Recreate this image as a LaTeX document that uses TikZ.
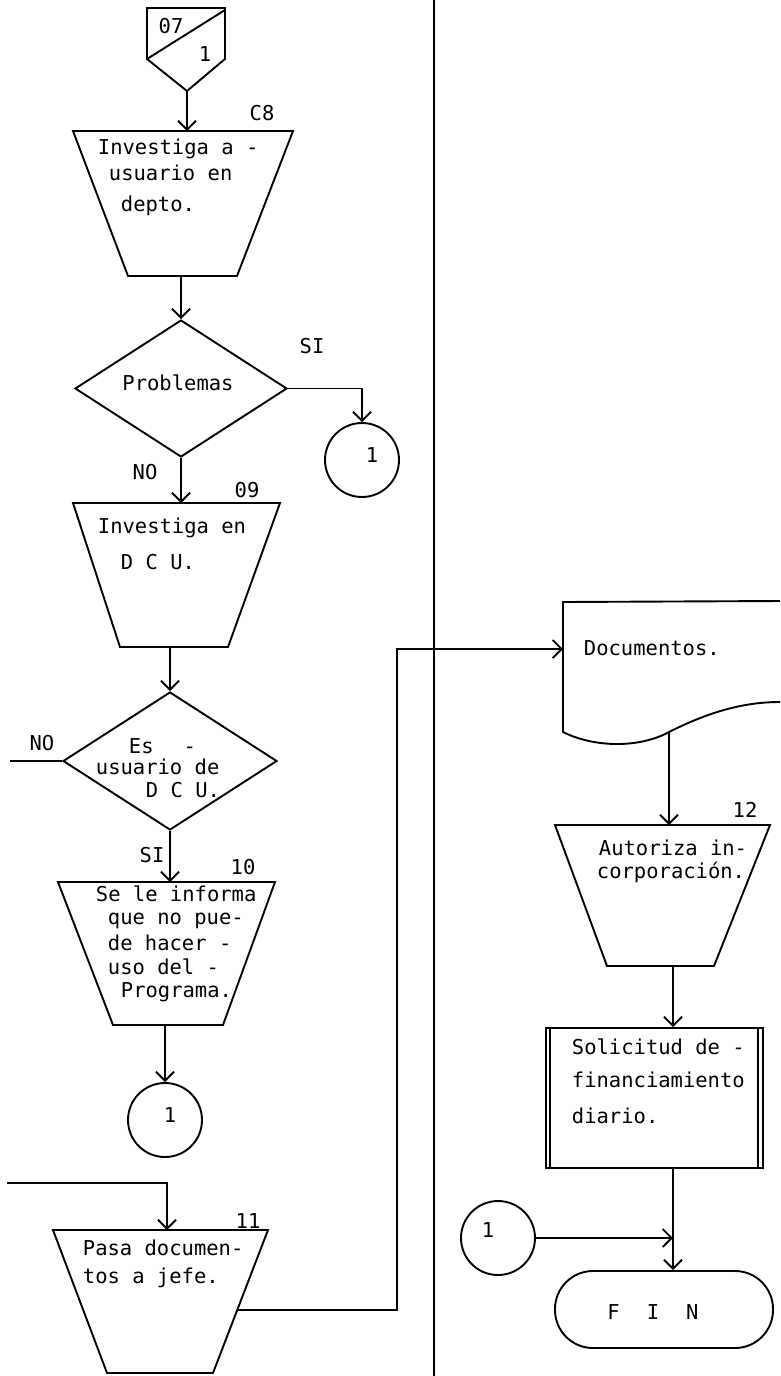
\documentclass[tikz,border=0pt]{standalone}
\usepackage{fontspec}
\setmonofont{DejaVu Sans Mono}
\usetikzlibrary{arrows.meta,shapes.geometric,calc}
\begin{document}
\begin{tikzpicture}[x=1pt,y=-1pt,line width=1.9pt,
  tbox/.style={inner sep=0pt,outer sep=0pt,rectangle},
  dia/.style={draw,diamond,inner sep=0pt},
  con/.style={draw,circle,inner sep=0pt,minimum size=74pt},
  arr/.style={-{Straight Barb[length=9pt,width=18pt]}},
  tl/.style={font=\ttfamily\fontsize{20.5}{24}\selectfont,anchor=west,inner sep=0pt,text height=14pt,text depth=0pt},
  lab/.style={font=\ttfamily\fontsize{20.5}{24}\selectfont,anchor=center,inner sep=0pt,text height=14pt,text depth=0pt}]
\useasboundingbox (0,0) rectangle (780,1376);
\fill[white] (0,0) rectangle (780,1376);

% divider
\coordinate (divT) at (434,0);
\coordinate (divB) at (434,1376);
\draw (divT) -- (divB);

% off-page connector
\coordinate (opTL) at (147,8);
\coordinate (opTR) at (225,8);
\coordinate (opR) at (225,59);
\coordinate (opA) at (187,91);
\coordinate (opL) at (147,59);
\coordinate (opD) at (225,10);
\draw (opTL) -- (opTR) -- (opR) -- (opA) -- (opL) -- cycle;
\draw (opL) -- (opD);
\node[lab] (l07) at (171,26) {07};
\node[lab] (l1a) at (205,54) {1};

% 08
\node[tbox,minimum width=220pt,minimum height=145pt] (T08) at (183,203.5) {};
\draw (T08.north west) -- (T08.north east) -- ([xshift=-56pt]T08.south east) -- ([xshift=55pt]T08.south west) -- cycle;
\node[lab] (n08) at (262,113) {C8};
\node[tl] (t08a) at (97,147) {Investiga a -};
\node[tl] (t08b) at (108,173) {usuario en};
\node[tl] (t08c) at (120,204) {depto.};
\draw[arr] (opA) -- (opA |- T08.north);

% Problemas
\node[dia,minimum width=212pt,minimum height=137pt] (D1) at (181,388.5) {};
\node[lab] (tD1) at (178,383) {Problemas};
\draw[arr] (D1.north |- T08.south) -- (D1.north);
\node[con] (C1) at (362,460) {};
\node[lab] (tC1) at (372,455) {1};
\node[lab] (si1) at (312,346) {SI};
\draw[arr] (D1.east) -| (C1.north);

% 09
\node[tbox,minimum width=207pt,minimum height=144pt] (T09) at (176.5,575) {};
\draw (T09.north west) -- (T09.north east) -- ([xshift=-52pt]T09.south east) -- ([xshift=47pt]T09.south west) -- cycle;
\node[lab] (no1) at (145,472) {NO};
\node[lab] (n09) at (247,490) {09};
\node[tl] (t09a) at (97,526) {Investiga en};
\node[tl] (t09b) at (120,562) {D C U.};
\draw[arr] (D1.south) -- (D1.south |- T09.north);

% Es usuario
\node[dia,minimum width=214pt,minimum height=138pt] (D2) at (170,761) {};
\node[tl] (tD2a) at (128,746) {Es\hspace{30pt}-};
\node[tl] (tD2b) at (95,767) {usuario de};
\node[tl] (tD2c) at (145,790) {D C U.};
\draw[arr] (D2.north |- T09.south) -- (D2.north);
\coordinate (noL) at (10,761);
\draw (D2.west) -- (noL);
\node[lab] (no2) at (42,743) {NO};

% 10
\node[tbox,minimum width=217pt,minimum height=143pt] (T10) at (166.5,953.5) {};
\draw (T10.north west) -- (T10.north east) -- ([xshift=-52pt]T10.south east) -- ([xshift=55pt]T10.south west) -- cycle;
\node[lab] (si2) at (152,855) {SI};
\node[lab] (n10) at (243,867) {10};
\node[tl] (t10a) at (95,894) {Se le informa};
\node[tl] (t10b) at (107,917) {que no pue-};
\node[tl] (t10c) at (107,943) {de hacer -};
\node[tl] (t10d) at (107,967) {uso del -};
\node[tl] (t10e) at (120,990) {Programa.};
\draw[arr] (D2.south) -- (D2.south |- T10.north);

\node[con] (C2) at (165,1120) {};
\node[lab] (tC2) at (170,1115) {1};
\draw[arr] (C2.north |- T10.south) -- (C2.north);

% 11
\node[tbox,minimum width=215pt,minimum height=143pt] (T11) at (160.5,1301.5) {};
\coordinate (T11br) at ([xshift=-55pt]T11.south east);
\coordinate (T11bl) at ([xshift=54pt]T11.south west);
\draw (T11.north west) -- (T11.north east) -- (T11br) -- (T11bl) -- cycle;
\node[lab] (n11) at (248,1221) {11};
\node[tl] (t11a) at (82,1248) {Pasa documen-};
\node[tl] (t11b) at (82,1276) {tos a jefe.};
\coordinate (in11) at (7,1183);
\coordinate (k11) at (167,1183);
\draw[arr] (in11) -- (k11) -- (k11 |- T11.north);
\coordinate (ex11) at ($(T11.north east)!0.56!(T11br)$);

% Documentos
\coordinate (docTR) at (780,601);
\coordinate (docTL) at (563,602);
\coordinate (docBL) at (563,732);
\coordinate (docS) at (669,732);
\coordinate (docBR) at (780,702);
\draw (docTR) -- (docTL) -- (docBL) .. controls (595,748) and (640,748) .. (docS) .. controls (705,714) and (740,702) .. (docBR);
\node[tl] (tdoc) at (583,648) {Documentos.};
\coordinate (docW) at (563,649);
\coordinate (k12) at (397,649);
\draw[arr] (ex11) -| (k12) -- (docW);

% 12
\node[tbox,minimum width=215pt,minimum height=141pt] (T12) at (662.5,895.5) {};
\draw (T12.north west) -- (T12.north east) -- ([xshift=-56pt]T12.south east) -- ([xshift=52pt]T12.south west) -- cycle;
\node[lab] (n12) at (745,810) {12};
\node[tl] (t12a) at (598,848) {Autoriza in-};
\node[tl] (t12b) at (596,871) {corporación.};
\draw[arr] (docS) -- (docS |- T12.north);

% Solicitud
\coordinate (colx) at (673,0);
\node[draw,rectangle,minimum width=217pt,minimum height=140pt,inner sep=0pt] (P) at (654.5,1098) {};
\draw ([xshift=5pt]P.north west) -- ([xshift=5pt]P.south west);
\draw ([xshift=-6pt]P.north east) -- ([xshift=-6pt]P.south east);
\node[tl] (tPa) at (571,1047) {Solicitud de -};
\node[tl] (tPb) at (571,1080) {financiamiento};
\node[tl] (tPc) at (571,1116) {diario.};
\draw[arr] (T12.south -| colx) -- (P.north -| colx);

% FIN
\node[draw,rectangle,rounded corners=38pt,minimum width=218pt,minimum height=77pt,inner sep=0pt] (FIN) at (664,1309.5) {};
\node[lab] (tFIN) at (653,1312) {F\hspace{27pt}I\hspace{27pt}N};
\node[con] (C3) at (498,1238) {};
\node[lab] (tC3) at (488,1230) {1};
\draw[arr] (P.south -| colx) -- (FIN.north -| colx);
\draw[arr] (C3.east) -- (C3.east -| colx);
\end{tikzpicture}
\end{document}
